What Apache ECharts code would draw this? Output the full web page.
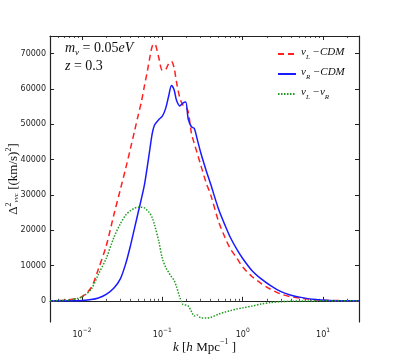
<!DOCTYPE html>
<html>
<head>
<meta charset="utf-8">
<script src="https://cdn.jsdelivr.net/npm/echarts@6/dist/echarts.min.js"></script>
<style>
  html, body { margin: 0; padding: 0; background: #fff; }
  #chart { width: 399px; height: 359px; }
</style>
</head>
<body>
<div id="chart"></div>
<script>
// k [h/Mpc]
const kValues = [
  0.004, 0.006, 0.008, 0.01, 0.013, 0.016, 0.02, 0.025, 0.03, 0.035,
  0.04, 0.045, 0.05, 0.055, 0.06, 0.065, 0.07, 0.075, 0.08, 0.09,
  0.1, 0.11, 0.12, 0.13, 0.14, 0.15, 0.165, 0.18, 0.195, 0.21,
  0.23, 0.25, 0.27, 0.3, 0.35, 0.4, 0.5, 0.6, 0.7, 0.85,
  1.0, 1.3, 1.7, 2.2, 3, 4, 5.5, 8, 12, 20, 28
]
// nu_L - CDM
const nuLCdm = [
  0, 150, 500, 1200, 3700, 9000, 15500, 24500, 31500, 37500,
  43000, 48000, 52500, 56500, 61000, 65000, 69000, 72200, 72800, 69000,
  65300, 65500, 67200, 67800, 66000, 62000, 57500, 55500, 55000, 53500,
  47500, 44500, 42000, 38500, 33500, 30000, 22500, 18000, 14800, 12000,
  9600, 6900, 4900, 3350, 1900, 1150, 700, 300, 120, 30, 10
]
// nu_R - CDM
const nuRCdm = [
  0, 10, 40, 120, 350, 800, 1800, 3600, 6200, 10500,
  15500, 20500, 25000, 29000, 33000, 38000, 43000, 47500, 49800, 51300,
  52300, 54500, 58000, 61000, 59800, 56800, 55200, 56000, 56300, 51500,
  49300, 48800, 46000, 42000, 37000, 33000, 26000, 21500, 18000, 14500,
  12000, 8600, 6200, 4400, 2600, 1600, 900, 350, 120, 30, 10
]
// nu_L - nu_R
const nuLnuR = [
  0, 140, 460, 1100, 3300, 7500, 12000, 18000, 21800, 24300,
  25500, 26200, 26500, 26500, 26300, 25600, 24800, 23500, 21500, 17000,
  12000, 9500, 8000, 6800, 5800, 4000, 1000, -1000, -1200, -1500,
  -3000, -4300, -4000, -4800, -4900, -4700, -3800, -3200, -2800, -2300,
  -2000, -1500, -900, -500, -250, -120, -50, -20, 0, 0, 0
]
const yTicks = [0, 10000, 20000, 30000, 40000, 50000, 60000, 70000]
const xMajor = [0.01, 0.1, 1, 10]
const xMinor = []
;[0.001, 0.01, 0.1, 1, 10].forEach(d => {
  for (let m = 2; m <= 9; m++) xMinor.push(+(d * m).toPrecision(3))
})

const pair = arr => kValues.map((k, i) => [k, arr[i]])

const mathFont = 'Liberation Serif'
const tickFont = 'DejaVu Sans'
const AXIS = '#222'

const chart = echarts.init(document.getElementById('chart'), null, { renderer: 'canvas' })

const sup = (base, exp) => '{b|' + base + '}{e|' + exp + '}'
const expOf = v => Math.round(Math.log10(v))

const xBase = {
  type: 'log',
  min: 0.004,
  max: 28,
  gridIndex: 0,
  splitLine: { show: false },
  axisLine: { show: false },
  axisLabel: { show: false },
  axisTick: { show: true, inside: true, length: 2, lineStyle: { color: AXIS, width: 0.8 }, customValues: xMinor }
}

const option = {
  animation: false,
  grid: { left: 50, right: 40, top: 36, bottom: 37, outerBoundsMode: 'none' },
  xAxis: [
    {
      type: 'log',
      min: 0.004,
      max: 28,
      position: 'bottom',
      splitLine: { show: false },
      axisLine: { show: true, lineStyle: { color: AXIS, width: 1.2 } },
      axisTick: { inside: true, length: 4, lineStyle: { color: AXIS }, customValues: xMajor },
      axisLabel: {
        customValues: xMajor,
        margin: 5,
        formatter: v => sup('10', (expOf(v) < 0 ? '−' : '') + Math.abs(expOf(v))),
        rich: {
          b: { fontFamily: tickFont, fontSize: 8, color: '#222', verticalAlign: 'bottom', lineHeight: 12 },
          e: { fontFamily: tickFont, fontSize: 6, color: '#222', verticalAlign: 'top', lineHeight: 12 }
        }
      },
      name: '{i|k} {r|[}{i|h} {r|Mpc}{e|−1}{r| ]}',
      nameLocation: 'middle',
      nameGap: 16,
      nameMoveOverlap: false,
      nameTextStyle: {
        rich: {
          i: { fontFamily: mathFont, fontStyle: 'italic', fontSize: 13, color: '#111', verticalAlign: 'bottom', lineHeight: 16 },
          r: { fontFamily: mathFont, fontSize: 13, color: '#111', verticalAlign: 'bottom', lineHeight: 16 },
          e: { fontFamily: mathFont, fontSize: 8, color: '#111', verticalAlign: 'top', lineHeight: 16 }
        }
      }
    },
    Object.assign({}, xBase, { position: 'bottom' }),
    Object.assign({}, xBase, {
      position: 'top',
      axisLine: { show: true, lineStyle: { color: AXIS, width: 1.2 } },
      axisTick: { show: true, inside: true, length: 4, lineStyle: { color: AXIS }, customValues: xMajor }
    }),
    Object.assign({}, xBase, { position: 'top' })
  ],
  yAxis: [
    {
      type: 'value',
      min: -6000,
      max: 75000,
      position: 'left',
      splitLine: { show: false },
      axisLine: { show: true, lineStyle: { color: AXIS, width: 1.2 } },
      axisTick: { inside: true, length: 4, lineStyle: { color: AXIS }, customValues: yTicks },
      axisLabel: {
        customValues: yTicks,
        formatter: v => String(v),
        fontFamily: tickFont,
        fontSize: 8,
        color: '#222',
        margin: 4
      },
      name: '{b|Δ}{s|2}{u|vvc}{r| [(km/s)}{s|2}{r|]}',
      nameLocation: 'middle',
      nameRotate: 90,
      nameGap: 30,
      nameMoveOverlap: false,
      nameTextStyle: {
        rich: {
          b: { fontFamily: mathFont, fontSize: 13, color: '#111', verticalAlign: 'bottom', lineHeight: 15 },
          s: { fontFamily: mathFont, fontSize: 8, color: '#111', verticalAlign: 'top', lineHeight: 15 },
          u: { fontFamily: mathFont, fontStyle: 'italic', fontSize: 7, color: '#111', verticalAlign: 'bottom', lineHeight: 15 },
          r: { fontFamily: mathFont, fontSize: 13, color: '#111', verticalAlign: 'bottom', lineHeight: 15 }
        }
      }
    },
    {
      type: 'value',
      min: -6000,
      max: 75000,
      position: 'right',
      splitLine: { show: false },
      axisLine: { show: true, lineStyle: { color: AXIS, width: 1.2 } },
      axisTick: { inside: true, length: 4, lineStyle: { color: AXIS }, customValues: yTicks },
      axisLabel: { show: false }
    }
  ],
  legend: {
    orient: 'vertical',
    left: 272,
    top: 42,
    itemWidth: 18,
    itemHeight: 8,
    itemGap: 6,
    itemStyle: { opacity: 0 },
    formatter: name => ({
      'nuL-CDM': '{i|ν}{s|L}{i| −CDM}',
      'nuR-CDM': '{i|ν}{s|R}{i| −CDM}',
      'nuL-nuR': '{i|ν}{s|L}{i| −ν}{s|R}'
    })[name],
    textStyle: {
      rich: {
        i: { fontFamily: mathFont, fontStyle: 'italic', fontSize: 11, color: '#111', verticalAlign: 'top', lineHeight: 14 },
        s: { fontFamily: mathFont, fontStyle: 'italic', fontSize: 7, color: '#111', verticalAlign: 'bottom', lineHeight: 14 }
      }
    }
  },
  graphic: [
    {
      type: 'text',
      left: 65,
      top: 41,
      style: {
        text: '{i|m}{s|ν}{r| = 0.05}{i|eV}',
        rich: {
          i: { fontFamily: mathFont, fontStyle: 'italic', fontSize: 14, fill: '#111', verticalAlign: 'top', lineHeight: 16 },
          r: { fontFamily: mathFont, fontSize: 14, fill: '#111', verticalAlign: 'top', lineHeight: 16 },
          s: { fontFamily: mathFont, fontStyle: 'italic', fontSize: 9, fill: '#111', verticalAlign: 'bottom', lineHeight: 16 }
        }
      }
    },
    {
      type: 'text',
      left: 65,
      top: 59,
      style: {
        text: '{i|z}{r| = 0.3}',
        rich: {
          i: { fontFamily: mathFont, fontStyle: 'italic', fontSize: 14, fill: '#111' },
          r: { fontFamily: mathFont, fontSize: 14, fill: '#111' }
        }
      }
    }
  ],
  series: [
    {
      name: 'nuL-CDM',
      type: 'line',
      data: pair(nuLCdm),
      symbol: 'none',
      smooth: 0.3,
      lineStyle: { color: '#ff2020', width: 1.5, type: [6, 4] },
      itemStyle: { color: '#ff2020' }
    },
    {
      name: 'nuR-CDM',
      type: 'line',
      data: pair(nuRCdm),
      symbol: 'none',
      smooth: 0.3,
      lineStyle: { color: '#1a1aff', width: 1.5, type: 'solid' },
      itemStyle: { color: '#1a1aff' }
    },
    {
      name: 'nuL-nuR',
      type: 'line',
      data: pair(nuLnuR),
      symbol: 'none',
      smooth: 0.3,
      lineStyle: { color: '#1f9a1f', width: 1.5, type: [1.5, 1.5] },
      itemStyle: { color: '#1f9a1f' }
    }
  ]
}

chart.setOption(option)
</script>
</body>
</html>
